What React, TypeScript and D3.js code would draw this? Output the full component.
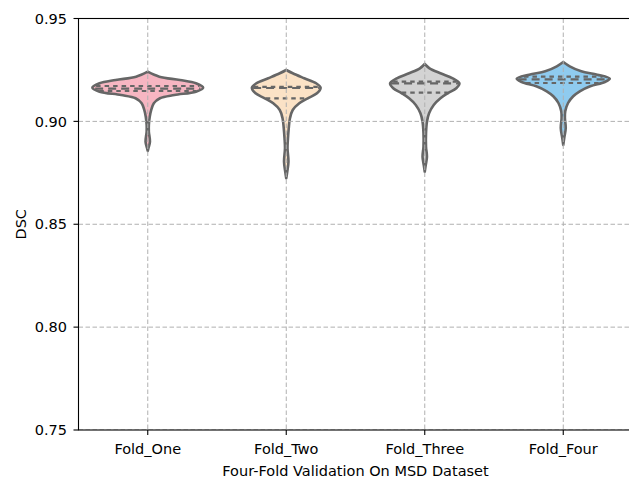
import React from "react";
import * as d3 from "d3";

// ---- data ----
const categories = ["Fold_One", "Fold_Two", "Fold_Three", "Fold_Four"];
const fillColors = ["#F7B6C2", "#FBE2C6", "#D3D3D3", "#8FCBEF"];
const yTicks = [0.75, 0.8, 0.85, 0.9, 0.95];

// density profiles: DSC value and relative density (1 = widest violin)
const foldOneValues = [0.92414, 0.92171, 0.92011, 0.91851, 0.91637, 0.91442, 0.91282, 0.91122, 0.90879, 0.90553, 0.90227, 0.89824, 0.89498, 0.89012, 0.88691, 0.8856];
const foldOneDensity = [0, 0.21, 0.58, 0.87, 1.0, 0.87, 0.48, 0.22, 0.11, 0.063, 0.036, 0.02, 0.02, 0.04, 0.012, 0];

const foldTwoValues = [0.92497, 0.92337, 0.92094, 0.91851, 0.91637, 0.91365, 0.91122, 0.90879, 0.90553, 0.90149, 0.89663, 0.89177, 0.88691, 0.8804, 0.87554, 0.87233];
const foldTwoDensity = [0, 0.117, 0.325, 0.54, 0.62, 0.554, 0.388, 0.235, 0.117, 0.067, 0.045, 0.031, 0.023, 0.04, 0.018, 0];

const foldThreeValues = [0.92789, 0.9258, 0.92337, 0.92094, 0.91851, 0.91608, 0.91365, 0.91122, 0.90796, 0.90392, 0.89984, 0.8942, 0.88769, 0.88283, 0.8788, 0.87554];
const foldThreeDensity = [0, 0.087, 0.283, 0.505, 0.626, 0.569, 0.415, 0.283, 0.162, 0.078, 0.04, 0.023, 0.023, 0.04, 0.018, 0];

const foldFourValues = [0.92886, 0.92677, 0.92434, 0.92269, 0.92074, 0.91914, 0.91705, 0.91462, 0.91219, 0.90893, 0.9049, 0.90164, 0.89678, 0.89192, 0.88852];
const foldFourDensity = [0, 0.117, 0.325, 0.614, 0.84, 0.75, 0.487, 0.298, 0.18, 0.087, 0.036, 0.03, 0.045, 0.018, 0];

// quartiles: [q25, median, q75]
const foldOneQuartiles = [0.91476, 0.91588, 0.91719];
const foldTwoQuartiles = [0.91122, 0.91622, 0.9168];
const foldThreeQuartiles = [0.91394, 0.91851, 0.91928];
const foldFourQuartiles = [0.91865, 0.92045, 0.92171];

const profiles = [
  { values: foldOneValues, density: foldOneDensity, quartiles: foldOneQuartiles },
  { values: foldTwoValues, density: foldTwoDensity, quartiles: foldTwoQuartiles },
  { values: foldThreeValues, density: foldThreeDensity, quartiles: foldThreeQuartiles },
  { values: foldFourValues, density: foldFourDensity, quartiles: foldFourQuartiles },
];

const W = 629;
const H = 479;
const margin = { left: 78.5, right: 632.5, top: 18.5, bottom: 430 };
const FONT = "'DejaVu Sans', sans-serif";
const FS = 14.5;

export default function App() {
  const x = d3
    .scalePoint<string>()
    .domain(categories)
    .range([margin.left, margin.right])
    .padding(0.5);
  const step = x.step();
  const y = d3.scaleLinear().domain([0.75, 0.95]).range([margin.bottom, margin.top]);
  const w = d3.scaleLinear().domain([0, 1]).range([0, step * 0.4]);

  const grid = "#b0b0b0";
  const outline = "#666666";

  return (
    <svg
      width={W}
      height={H}
      style={{ position: "absolute", left: 0, top: 0, background: "#fff" }}
      fontFamily={FONT}
    >
      <defs>
        <clipPath id="plotclip">
          <rect x={margin.left} y={margin.top} width={margin.right - margin.left} height={margin.bottom - margin.top} />
        </clipPath>
      </defs>
      {/* violins */}
      {profiles.map((p, i) => {
        const cx = x(categories[i]) as number;
        const pts = p.values.map((v, j) => ({ v, d: p.density[j] }));
        const area = d3
          .area<{ v: number; d: number }>()
          .y((d) => y(d.v))
          .x0((d) => cx - w(d.d))
          .x1((d) => cx + w(d.d))
          .curve(d3.curveCatmullRom.alpha(0.5));
        const dens = d3.scaleLinear().domain(p.values).range(p.density).clamp(true);
        return (
          <g key={categories[i]}>
            <path d={area(pts) || ""} fill={fillColors[i]} stroke={outline} strokeWidth={2.6} strokeLinejoin="round" />
            {p.quartiles.map((q, k) => {
              const hw = w(dens(q)) - 1;
              return (
                <line
                  key={k}
                  x1={cx - hw}
                  x2={cx + hw}
                  y1={y(q)}
                  y2={y(q)}
                  stroke={outline}
                  strokeWidth={2.2}
                  strokeDasharray={k === 1 ? "8,5" : "4.5,4"}
                />
              );
            })}
          </g>
        );
      })}
      {/* grid on top */}
      <g clipPath="url(#plotclip)">
        {yTicks.map((t) => (
          <line key={t} x1={margin.left} x2={margin.right} y1={y(t)} y2={y(t)} stroke={grid} strokeWidth={1} strokeDasharray="4.5,2.5" />
        ))}
        {categories.map((c) => (
          <line key={c} x1={x(c)} x2={x(c)} y1={margin.top} y2={margin.bottom} stroke={grid} strokeWidth={1} strokeDasharray="4.5,2.5" />
        ))}
      </g>
      {/* spines */}
      <rect
        x={margin.left}
        y={margin.top}
        width={margin.right - margin.left}
        height={margin.bottom - margin.top}
        fill="none"
        stroke="#000"
        strokeWidth={1.1}
      />
      {/* y ticks */}
      {yTicks.map((t) => (
        <g key={t}>
          <line x1={margin.left - 5} x2={margin.left} y1={y(t)} y2={y(t)} stroke="#000" strokeWidth={1.1} />
          <text x={margin.left - 11.5} y={y(t)} dy="0.36em" textAnchor="end" fontSize={FS} fill="#000">
            {d3.format(".2f")(t)}
          </text>
        </g>
      ))}
      {/* x ticks */}
      {categories.map((c) => (
        <g key={c}>
          <line x1={x(c)} x2={x(c)} y1={margin.bottom} y2={margin.bottom + 5} stroke="#000" strokeWidth={1.1} />
          <text x={x(c)} y={454} textAnchor="middle" fontSize={FS} fill="#000">
            {c}
          </text>
        </g>
      ))}
      <text x={(margin.left + margin.right) / 2} y={475.5} textAnchor="middle" fontSize={FS} fill="#000">
        Four-Fold Validation On MSD Dataset
      </text>
      <text
        transform={`translate(25.5, ${(margin.top + margin.bottom) / 2}) rotate(-90)`}
        textAnchor="middle"
        fontSize={FS}
        fill="#000"
      >
        DSC
      </text>
    </svg>
  );
}
